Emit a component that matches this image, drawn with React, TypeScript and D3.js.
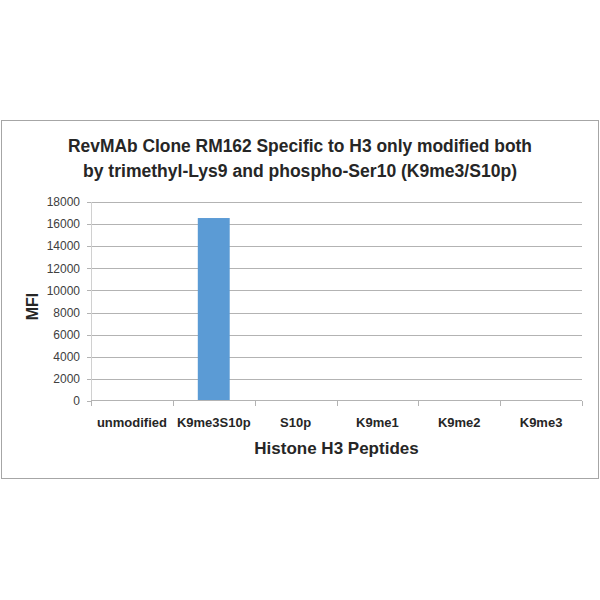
import { useEffect, useRef } from 'react'
import * as d3 from 'd3'

const categories = ['unmodified', 'K9me3S10p', 'S10p', 'K9me1', 'K9me2', 'K9me3']
const mfiValues = [0, 16550, 0, 0, 0, 0]
const yTicks = [0, 2000, 4000, 6000, 8000, 10000, 12000, 14000, 16000, 18000]
const titleLines = [
  'RevMAb Clone RM162 Specific to H3 only modified both',
  'by trimethyl-Lys9 and phospho-Ser10 (K9me3/S10p)',
]
const xTitle = 'Histone H3 Peptides'
const yTitle = 'MFI'

const WIDTH = 600
const HEIGHT = 600
const FONT = '"Liberation Sans", Arial, sans-serif'

export default function App() {
  const svgRef = useRef<SVGSVGElement | null>(null)

  useEffect(() => {
    const svgElement = svgRef.current
    if (!svgElement) return
    const svg = d3.select(svgElement)
    svg.selectAll('*').remove()

    svg.append('rect').attr('width', WIDTH).attr('height', HEIGHT).attr('fill', '#fff')

    // outer chart frame
    svg
      .append('rect')
      .attr('x', 1.5)
      .attr('y', 120.5)
      .attr('width', 597)
      .attr('height', 358)
      .attr('fill', 'none')
      .attr('stroke', '#a6a6a6')
      .attr('stroke-width', 1)

    const margin = { top: 202, left: 91, right: 18, bottom: 199 }
    const innerWidth = WIDTH - margin.left - margin.right
    const innerHeight = HEIGHT - margin.top - margin.bottom

    const x = d3.scaleBand<string>().domain(categories).range([0, innerWidth]).paddingInner(0.61).paddingOuter(0.305)
    const xTicks = d3.scaleBand<string>().domain(categories).range([0, innerWidth])
    const y = d3.scaleLinear().domain([0, 18000]).range([innerHeight, 0])

    const g = svg.append('g').attr('transform', `translate(${margin.left},${margin.top})`)

    // gridlines
    g.selectAll('line.grid')
      .data(yTicks.filter((t) => t > 0))
      .join('line')
      .attr('class', 'grid')
      .attr('x1', 0)
      .attr('x2', innerWidth)
      .attr('y1', (d) => Math.round(y(d)) + 0.5)
      .attr('y2', (d) => Math.round(y(d)) + 0.5)
      .attr('stroke', '#b3b3b3')

    // y axis line + ticks
    g.append('line')
      .attr('x1', 0.5)
      .attr('x2', 0.5)
      .attr('y1', 0)
      .attr('y2', innerHeight)
      .attr('stroke', '#d0d0d0')
    g.selectAll('line.ytick')
      .data(yTicks)
      .join('line')
      .attr('class', 'ytick')
      .attr('x1', -4)
      .attr('x2', 0)
      .attr('y1', (d) => Math.round(y(d)) + 0.5)
      .attr('y2', (d) => Math.round(y(d)) + 0.5)
      .attr('stroke', '#b3b3b3')

    g.selectAll('text.ylabel')
      .data(yTicks)
      .join('text')
      .attr('class', 'ylabel')
      .attr('x', -11)
      .attr('y', (d) => y(d))
      .attr('dy', '0.35em')
      .attr('text-anchor', 'end')
      .attr('font-family', FONT)
      .attr('font-size', 12)
      .attr('fill', '#404040')
      .text((d) => String(d))

    // bars
    g.selectAll('rect.bar')
      .data(categories)
      .join('rect')
      .attr('class', 'bar')
      .attr('x', (d) => x(d) ?? 0)
      .attr('width', x.bandwidth())
      .attr('y', (_, i) => y(mfiValues[i]))
      .attr('height', (_, i) => innerHeight - y(mfiValues[i]))
      .attr('fill', '#5b9bd5')

    // x axis line + ticks
    g.append('line')
      .attr('x1', 0)
      .attr('x2', innerWidth)
      .attr('y1', innerHeight - 0.5)
      .attr('y2', innerHeight - 0.5)
      .attr('stroke', '#b3b3b3')
    const tickPositions = [...categories.map((c) => xTicks(c) ?? 0), innerWidth]
    g.selectAll('line.xtick')
      .data(tickPositions)
      .join('line')
      .attr('class', 'xtick')
      .attr('x1', (d) => Math.round(d) + 0.5)
      .attr('x2', (d) => Math.round(d) + 0.5)
      .attr('y1', innerHeight)
      .attr('y2', innerHeight + 5)
      .attr('stroke', '#b3b3b3')

    g.selectAll('text.xlabel')
      .data(categories)
      .join('text')
      .attr('class', 'xlabel')
      .attr('x', (d) => (xTicks(d) ?? 0) + xTicks.bandwidth() / 2)
      .attr('y', innerHeight + 21)
      .attr('dy', '0.35em')
      .attr('text-anchor', 'middle')
      .attr('font-family', FONT)
      .attr('font-size', 13)
      .attr('font-weight', 'bold')
      .attr('fill', '#262626')
      .text((d) => d)

    // axis titles
    g.append('text')
      .attr('x', innerWidth / 2)
      .attr('y', innerHeight + 47)
      .attr('dy', '0.35em')
      .attr('text-anchor', 'middle')
      .attr('font-family', FONT)
      .attr('font-size', 17)
      .attr('font-weight', 'bold')
      .attr('fill', '#262626')
      .text(xTitle)

    svg
      .append('text')
      .attr('transform', 'translate(32,306.5) rotate(-90)')
      .attr('dy', '0.35em')
      .attr('text-anchor', 'middle')
      .attr('font-family', FONT)
      .attr('font-size', 16)
      .attr('font-weight', 'bold')
      .attr('fill', '#262626')
      .text(yTitle)

    // title
    const titleWidths = [464, 434]
    svg
      .selectAll('text.title')
      .data(titleLines)
      .join('text')
      .attr('class', 'title')
      .attr('x', 300)
      .attr('y', (_, i) => 146 + i * 25)
      .attr('dy', '0.35em')
      .attr('text-anchor', 'middle')
      .attr('font-family', FONT)
      .attr('font-size', 18)
      .attr('font-weight', 'bold')
      .attr('fill', '#262626')
      .attr('textLength', (_, i) => titleWidths[i])
      .attr('lengthAdjust', 'spacingAndGlyphs')
      .text((d) => d)
  }, [])

  return (
    <svg
      ref={svgRef}
      width={WIDTH}
      height={HEIGHT}
      style={{ position: 'absolute', left: 0, top: 0 }}
    />
  )
}
